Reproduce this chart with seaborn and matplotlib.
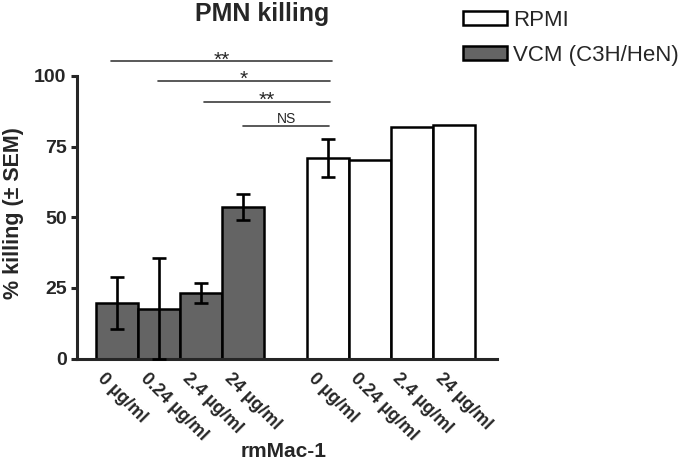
import numpy as np
import pandas as pd
import matplotlib
matplotlib.use("Agg")
import matplotlib.pyplot as plt
import matplotlib.transforms as mtransforms
import seaborn as sns

# data
conc_labels = ['0 µg/ml', '0.24 µg/ml', '2.4 µg/ml', '24 µg/ml']
vcm_name = 'VCM (C3H/HeN)'
rpmi_name = 'RPMI'
vcm_mean = [19.5, 17.6, 23.1, 53.6]
vcm_sem = [9.2, 17.9, 3.6, 4.6]
rpmi_mean = [70.9, 70.3, 81.9, 82.8]
rpmi_sem = [6.8, np.nan, np.nan, np.nan]

# significance brackets (bar index from, bar index to, label)
sig_from = [-0.15, 0.97, 2.07, 3.0]
sig_to = [5.1, 5.05, 5.05, 5.03]
sig_y = [105.3, 98.3, 90.9, 82.4]
sig_text = ['**', '*', '**', 'NS']

sns.set_style("ticks")
plt.rcParams['font.family'] = ['Liberation Sans', 'DejaVu Sans']

n = len(conc_labels)
slot = list(range(n)) + list(range(n + 1, 2 * n + 1))
df = pd.DataFrame({
    'slot': slot,
    'conc': conc_labels * 2,
    'group': [vcm_name] * n + [rpmi_name] * n,
    'mean': vcm_mean + rpmi_mean,
    'sem': vcm_sem + rpmi_sem,
})

fig = plt.figure(figsize=(6.8, 4.63), dpi=100)
ax = fig.add_axes([77 / 680, 1 - 358.5 / 463, 420 / 680, 282.5 / 463])

sns.barplot(data=df, x='slot', y='mean', hue='group',
            hue_order=[rpmi_name, vcm_name],
            palette={rpmi_name: 'white', vcm_name: '#646464'},
            native_scale=True, dodge=False, width=1, errorbar=None,
            edgecolor='black', linewidth=1.8, ax=ax)

ax.errorbar(df['slot'], df['mean'], yerr=df['sem'], fmt='none',
            ecolor='black', elinewidth=1.9, capsize=4.8, capthick=1.9,
            zorder=5, clip_on=False)

# significance lines
for x0, x1, y, t in zip(sig_from, sig_to, sig_y, sig_text):
    ax.plot([x0, x1], [y, y], color='#3c3c3c', lw=1.2, clip_on=False)
    if t == 'NS':
        ax.text((x0 + x1) / 2, y + 0.9, t, ha='center', va='baseline',
                fontsize=10, clip_on=False)
    else:
        ax.text((x0 + x1) / 2, y - 1.6, t, ha='center', va='baseline',
                fontsize=15, clip_on=False)

ax.set_xlim(-0.95, 9.02)
ax.set_ylim(0, 100)
ax.set_yticks([0, 25, 50, 75, 100])
ax.set_xticks(slot)
ax.tick_params(axis='x', length=0, pad=8)
ax.tick_params(axis='y', length=4.5, width=2.2, pad=3, labelsize=14)
ax.set_xticklabels(df['conc'], rotation=-45, ha='left', va='top',
                   rotation_mode='anchor', fontsize=13, fontweight='bold')
offset = mtransforms.ScaledTranslation(-10.5 / 100, 0, fig.dpi_scale_trans)
for lab in ax.get_xticklabels():
    lab.set_transform(lab.get_transform() + offset)
for lab in ax.get_yticklabels():
    lab.set_fontweight('bold')

sns.despine(ax=ax)
for s in ['left', 'bottom']:
    ax.spines[s].set_linewidth(2.2)
ax.spines['left'].set_capstyle('projecting')

ax.set_ylabel('% killing (± SEM)', fontsize=15.5, fontweight='bold')
ax.yaxis.set_label_coords(-0.125, 0.515)
ax.set_xlabel('rmMac-1', fontsize=15, fontweight='bold')
ax.xaxis.set_label_coords(0.492, -0.297)

fig.text(262 / 680, 1 - 2 / 463, 'PMN killing', ha='center', va='top',
         fontsize=18, fontweight='bold')

ax.legend(loc='upper left', bbox_to_anchor=(463 / 680, 1 - 10 / 463),
          bbox_transform=fig.transFigure, frameon=False, fontsize=16,
          handlelength=2.0, handleheight=0.62, handletextpad=0.25,
          labelspacing=0.62, borderpad=0, borderaxespad=0)

fig.savefig('out.png', dpi=100)
